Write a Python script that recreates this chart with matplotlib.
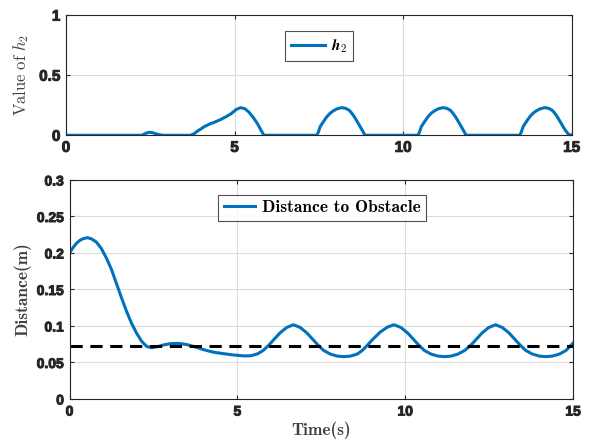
# h2 value and distance to obstacle over time

import numpy as np
import matplotlib.pyplot as plt
import matplotlib.patheffects as pe

# top panel: value of h2
t_h2 = [0, 2.25, 2.32, 2.4, 2.48, 2.56, 2.66, 2.78, 2.9,
        3.69, 3.8, 3.9, 4.0, 4.09, 4.2, 4.29, 4.4, 4.58, 4.75, 4.9, 5.05, 5.18,
        5.3, 5.42, 5.55, 5.68, 5.78, 5.87,
        7.44, 7.49, 7.54, 7.64, 7.74, 7.84, 7.94, 8.04, 8.18, 8.29, 8.39, 8.44,
        8.54, 8.64, 8.74, 8.81, 8.87,
        10.44, 10.49, 10.54, 10.64, 10.74, 10.84, 10.94, 11.04, 11.18, 11.29,
        11.39, 11.44, 11.54, 11.64, 11.74, 11.81, 11.87,
        13.46, 13.51, 13.56, 13.66, 13.76, 13.86, 13.96, 14.06, 14.2, 14.31,
        14.41, 14.46, 14.56, 14.66, 14.76, 14.83, 14.9, 15]
h2 = [0, 0, 0.01, 0.02, 0.025, 0.022, 0.013, 0.004, 0,
      0, 0.012, 0.035, 0.052, 0.07, 0.085, 0.097, 0.108, 0.13, 0.155, 0.18, 0.215, 0.23,
      0.222, 0.195, 0.15, 0.097, 0.045, 0,
      0, 0.03, 0.072, 0.115, 0.155, 0.185, 0.205, 0.22, 0.23, 0.225, 0.21, 0.197,
      0.16, 0.113, 0.065, 0.03, 0,
      0, 0.03, 0.072, 0.115, 0.155, 0.185, 0.205, 0.22, 0.23, 0.225,
      0.21, 0.197, 0.16, 0.113, 0.065, 0.03, 0,
      0, 0.03, 0.072, 0.115, 0.155, 0.185, 0.205, 0.22, 0.23, 0.225,
      0.21, 0.197, 0.16, 0.113, 0.065, 0.035, 0.01, 0]

# bottom panel: distance to obstacle
t_d = [0, 0.1, 0.2, 0.3, 0.4, 0.53, 0.65, 0.8, 0.95, 1.1, 1.25, 1.4, 1.55, 1.7,
       1.85, 2.0, 2.15, 2.3, 2.45, 2.6, 2.8, 3.0, 3.25, 3.5, 3.75, 4.0, 4.3, 4.6,
       4.9, 5.2, 5.4, 5.6, 5.77, 5.92, 6.07, 6.27, 6.47, 6.67, 6.87, 7.07, 7.27,
       7.42, 7.57, 7.77, 7.97, 8.17, 8.37, 8.57, 8.72, 8.86, 9.03, 9.25, 9.47,
       9.67, 9.87, 10.07, 10.27, 10.42, 10.57, 10.77, 10.97, 11.17, 11.37, 11.57,
       11.77, 11.94, 12.09, 12.29, 12.49, 12.69, 12.89, 13.09, 13.29, 13.44, 13.59,
       13.79, 13.99, 14.19, 14.39, 14.59, 14.79, 15.0]
dist = [0.2, 0.207, 0.213, 0.217, 0.2195, 0.221, 0.2195, 0.215, 0.206, 0.193,
        0.1775, 0.158, 0.1385, 0.12, 0.1035, 0.09, 0.079, 0.072, 0.0702, 0.0715,
        0.074, 0.0758, 0.0762, 0.0745, 0.0712, 0.0675, 0.064, 0.062, 0.0602, 0.059,
        0.0592, 0.0618, 0.0665, 0.073, 0.0805, 0.0905, 0.098, 0.1017, 0.098, 0.0905,
        0.0805, 0.073, 0.0665, 0.0615, 0.0588, 0.058, 0.0588, 0.0615, 0.0665, 0.073,
        0.0815, 0.0915, 0.0985, 0.1017, 0.098, 0.0905, 0.0805, 0.073, 0.0665, 0.0615,
        0.0588, 0.058, 0.0588, 0.0615, 0.0665, 0.073, 0.0805, 0.0905, 0.098, 0.1017,
        0.098, 0.0905, 0.0805, 0.073, 0.0665, 0.0615, 0.0588, 0.058, 0.0588, 0.0615,
        0.0665, 0.0765]
safe_dist = 0.073

blue = '#0072BD'
tick_col = '#262626'
plt.rcParams['mathtext.fontset'] = 'cm'
plt.rcParams['font.family'] = 'Liberation Sans'
plt.rcParams['font.weight'] = 'bold'

fig = plt.figure(figsize=(5.89, 4.45), dpi=100)
ax1 = fig.add_axes([0.112, 0.696, 0.8586, 0.270])
ax2 = fig.add_axes([0.118, 0.1034, 0.855, 0.4921])

thick = [pe.withStroke(linewidth=0.7, foreground=tick_col)]

def style(ax, fs):
    ax.grid(True, color='#dcdcdc', lw=0.8)
    ax.set_axisbelow(True)
    ax.tick_params(direction='in', top=True, right=True, length=3, width=0.8,
                   colors=tick_col, labelsize=fs, pad=4)
    plt.setp(ax.get_xticklabels() + ax.get_yticklabels(), fontweight='bold',
             path_effects=thick)
    for s in ax.spines.values():
        s.set_color(tick_col)
        s.set_linewidth(0.8)

ax1.plot(t_h2, h2, color=blue, lw=2.2, label=r'$\boldsymbol{h}_\mathbf{2}$')
ax1.set_xlim(0, 15)
ax1.set_ylim(0, 1)
ax1.set_xticks([0, 5, 10, 15])
ax1.set_yticks([0, 0.5, 1])
ax1.set_yticklabels(['0', '0.5', '1'])
style(ax1, 11)
ax1.set_ylabel(r'$\mathrm{Value\ of}\ h_2$', fontsize=12, color='#404040', labelpad=6)
leg1 = ax1.legend(loc='upper center', bbox_to_anchor=(0.50, 0.867), fancybox=False,
                  edgecolor='#262626', handlelength=2.2, handletextpad=0.4,
                  borderpad=0.4, borderaxespad=0, prop={'size': 11})
leg1.get_frame().set_linewidth(0.8)

ax2.plot(t_d, dist, color=blue, lw=2.2, label='Distance to Obstacle')
ax2.axhline(safe_dist, color='k', lw=2.2, ls=(0, (4, 2.5)))
ax2.set_xlim(0, 15)
ax2.set_ylim(0, 0.3)
ax2.set_xticks([0, 5, 10, 15])
ax2.set_yticks([0, 0.05, 0.1, 0.15, 0.2, 0.25, 0.3])
ax2.set_yticklabels(['0', '0.05', '0.1', '0.15', '0.2', '0.25', '0.3'])
style(ax2, 10)
ax2.set_ylabel('Distance(m)', family='cmb10', fontweight='normal', fontsize=12.5,
               color='#404040', labelpad=4)
ax2.set_xlabel('Time(s)', family='cmb10', fontweight='normal', fontsize=12.5,
               color='#404040', labelpad=2)
leg2 = ax2.legend(loc='upper center', bbox_to_anchor=(0.5015, 0.931), fancybox=False,
                  edgecolor='#262626', handlelength=1.8, handletextpad=0.4,
                  borderpad=0.3, borderaxespad=0,
                  prop={'family': 'cmb10', 'weight': 'normal', 'size': 12.5})
leg2.get_frame().set_linewidth(0.8)

fig.savefig('out.png', dpi=100)
